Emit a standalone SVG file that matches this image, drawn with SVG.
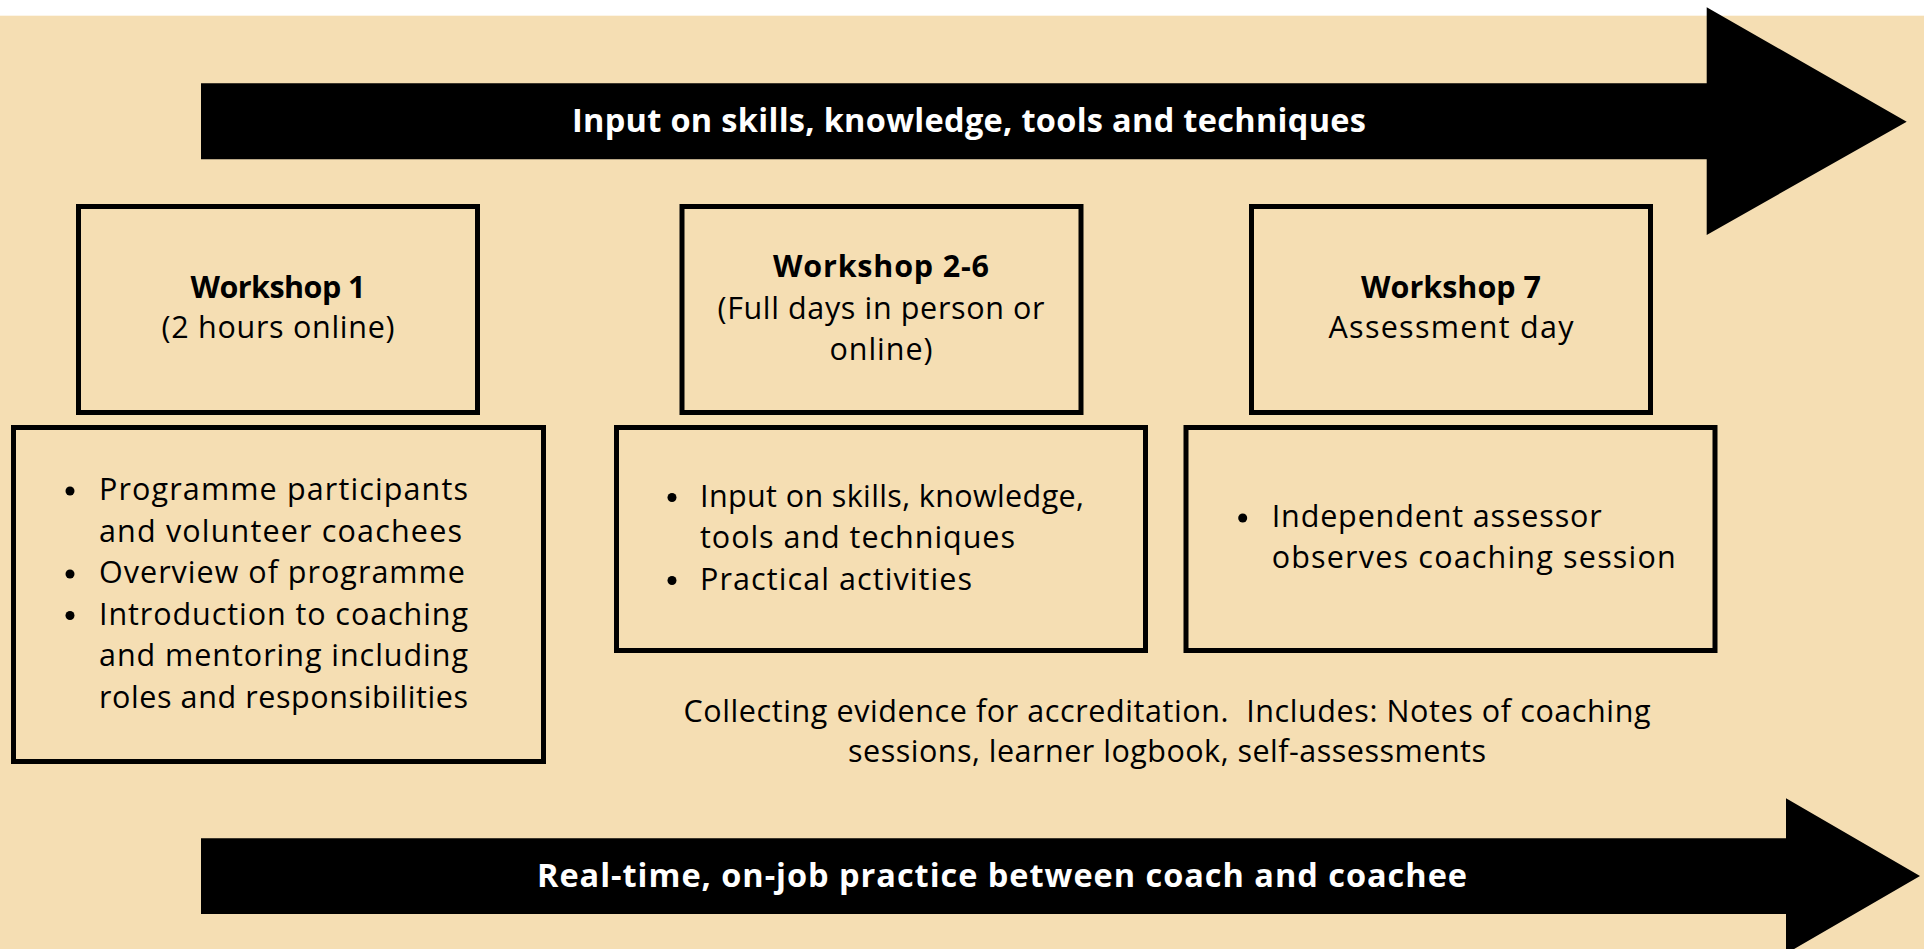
<svg xmlns="http://www.w3.org/2000/svg" width="1924" height="949" viewBox="0 0 1924 949">
<style>
.box{fill:none;stroke:#000;stroke-width:5}
.t{font-family:"Open Sans","Liberation Sans",sans-serif;font-size:30.5px;fill:#000}
.b{font-weight:700}
.c{text-anchor:middle}
.at{font-family:"Open Sans","Liberation Sans",sans-serif;font-size:32.5px;font-weight:700;fill:#fff;text-anchor:middle}
.arrow{fill:#000}
</style>
<rect x="0" y="0" width="1924" height="949" fill="#fff"/>
<rect x="0" y="15.7" width="1924" height="933.3" fill="#F5DEB3"/>

<g id="arrows">
  <g id="arrow-top">
    <polygon class="arrow" points="201,83.3 1706.7,83.3 1706.7,7.3 1906.7,121.7 1706.7,235 1706.7,159.3 201,159.3"/>
    <text class="at" x="969" y="132" textLength="794">Input on skills, knowledge, tools and techniques</text>
  </g>
  <g id="arrow-bottom">
    <polygon class="arrow" points="201,838.3 1786,838.3 1786,798.3 1920,876 1786,953.7 1786,914 201,914"/>
    <text class="at" x="1002" y="887" textLength="930">Real-time, on-job practice between coach and coachee</text>
  </g>
</g>

<g id="workshop1">
  <rect class="box" x="78.5" y="206.5" width="399" height="206"/>
  <text class="t b c" x="278" y="297.7" textLength="175">Workshop 1</text>
  <text class="t c" x="278" y="338.3" textLength="233">(2 hours online)</text>
</g>

<g id="workshop2-6">
  <rect class="box" x="682" y="206.5" width="399" height="206"/>
  <text class="t b c" x="881" y="277" textLength="216">Workshop 2-6</text>
  <text class="t c" x="881" y="318.5" textLength="327">(Full days in person or</text>
  <text class="t c" x="881" y="360" textLength="103">online)</text>
</g>

<g id="workshop7">
  <rect class="box" x="1251.5" y="206.5" width="399" height="206"/>
  <text class="t b c" x="1451" y="297.7" textLength="180">Workshop 7</text>
  <text class="t c" x="1451" y="338.3" textLength="245">Assessment day</text>
</g>

<g id="details1">
  <rect class="box" x="13.5" y="427.5" width="530" height="334"/>
  <circle cx="70" cy="491" r="4.5"/>
  <circle cx="70" cy="574" r="4.5"/>
  <circle cx="70" cy="615.5" r="4.5"/>
  <text class="t" x="99" y="500" textLength="369">Programme participants</text>
  <text class="t" x="99" y="541.5" textLength="363">and volunteer coachees</text>
  <text class="t" x="99" y="583" textLength="366">Overview of programme</text>
  <text class="t" x="99" y="624.5" textLength="369">Introduction to coaching</text>
  <text class="t" x="99" y="666" textLength="369">and mentoring including</text>
  <text class="t" x="99" y="707.5" textLength="369">roles and responsibilities</text>
</g>

<g id="details2-6">
  <rect class="box" x="616.5" y="427.5" width="529" height="223"/>
  <circle cx="672" cy="497.5" r="4.5"/>
  <circle cx="672" cy="580.5" r="4.5"/>
  <text class="t" x="700" y="506.5" textLength="384">Input on skills, knowledge,</text>
  <text class="t" x="700" y="548" textLength="315">tools and techniques</text>
  <text class="t" x="700" y="589.5" textLength="272">Practical activities</text>
</g>

<g id="details7">
  <rect class="box" x="1186" y="427.5" width="529" height="223"/>
  <circle cx="1242.7" cy="518" r="4.5"/>
  <text class="t" x="1271.7" y="526.7" textLength="330">Independent assessor</text>
  <text class="t" x="1271.7" y="568.3" textLength="404">observes coaching session</text>
</g>

<g id="evidence">
  <text class="t c" x="1167" y="721.7" textLength="967">Collecting evidence for accreditation.&#160; Includes: Notes of coaching</text>
  <text class="t c" x="1167" y="761.7" textLength="638">sessions, learner logbook, self-assessments</text>
</g>
</svg>
